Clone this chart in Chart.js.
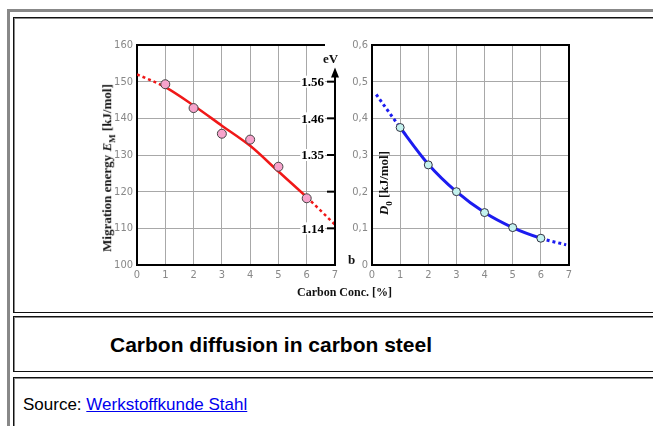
<!DOCTYPE html>
<html>
<head>
<meta charset="utf-8">
<script src="https://cdn.jsdelivr.net/npm/chart.js@4"></script>
<style>
  body { margin: 0; background: #fff; width: 653px; height: 426px; overflow: hidden; position: relative; font-family: "Liberation Sans", Arial, sans-serif; }
  .frame { position: absolute; left: 7px; top: 9px; width: 800px; height: 500px; border-left: 3px solid #888; border-top: 3px solid #888; }
  .cell { position: absolute; left: 13px; width: 760px; border: 1px solid #111; box-shadow: 1px 1px 0 #888 inset; }
  .box { position: absolute; }
  .lbl { position: absolute; font-family: "Liberation Serif", "Times New Roman", serif; font-weight: bold; font-size: 13px; color: #111; white-space: nowrap; }
  .rot { transform: translate(-50%, -50%) rotate(-90deg); }
  .caption { position: absolute; left: 110px; top: 333px; font-size: 21px; font-weight: bold; color: #000; }
  .source { position: absolute; left: 23px; top: 395px; font-size: 17px; color: #000; }
  .source a { color: #0000ee; }
</style>
</head>
<body>
<div class="frame"></div>
<div class="cell" style="top:17px;height:294px"></div>
<div class="cell" style="top:316px;height:54px"></div>
<div class="cell" style="top:377px;height:80px"></div>

<div class="box" style="left:80px;top:30px;width:280px;height:262px"><canvas id="left"></canvas></div>
<div class="box" style="left:330px;top:30px;width:250px;height:262px"><canvas id="right"></canvas></div>

<div class="lbl rot" style="left:108px;top:168px">Migration energy <i>E</i><sub style="font-size:9px">M</sub> [kJ/mol]</div>
<div class="lbl" style="left:323px;top:51px">eV</div>
<div class="lbl" style="left:348px;top:252px">b</div>
<div class="lbl rot" style="left:385px;top:183px"><i>D</i><sub style="font-size:9px">0</sub> [kJ/mol]</div>
<div class="lbl" style="left:297px;top:285px;font-size:12px">Carbon Conc. [%]</div>

<div class="caption">Carbon diffusion in carbon steel</div>
<div class="source">Source: <a href="#">Werkstoffkunde Stahl</a></div>

<script>
// carbon concentration [%] of the measured points
const concX = [1, 2, 3, 4, 5, 6]
// migration energy E_M [kJ/mol]
const migrationPts = [149.3, 142.8, 135.8, 134.2, 126.8, 118.2]
const fitX = [0, 1, 2, 3, 4, 5, 6, 7]
const migrationFit = [152, 148.5, 143.5, 138, 132.5, 125.5, 118.5, 111]
// eV scale on the right of the left plot
const evValues = [150, 140, 130, 120, 110]
const evLabels = ['1.56', '1.46', '1.35', '', '1.14']
const evTop = 153.3
// D0 [kJ/mol]
const d0Pts = [0.375, 0.273, 0.2, 0.143, 0.102, 0.073]
const d0FitX = [0.15, 1, 2, 3, 4, 5, 6, 6.9]
const d0Fit = [0.465, 0.375, 0.275, 0.2, 0.143, 0.102, 0.073, 0.055]

const tickFont = { family: '"Liberation Sans Narrow", "DejaVu Sans Condensed", sans-serif', size: 11 }
const tickColor = '#888'
const gridColor = '#a8a8a8'

const toXY = (xs, ys) => xs.map((x, i) => ({ x, y: ys[i] }))
const dottedEnds = n => ctx => (ctx.p0DataIndex === 0 || ctx.p1DataIndex === n - 1) ? [3, 3] : undefined

function fixWidth(w) { return s => { s.width = w } }
function fixHeight(h) { return s => { s.height = h } }

const leftFrame = {
  id: 'leftFrame',
  afterDatasetsDraw(chart) {
    const { ctx, chartArea: a, scales: { x, y } } = chart
    const ax = x.getPixelForValue(7)
    ctx.save()
    ctx.strokeStyle = '#000'
    ctx.lineWidth = 2
    ctx.beginPath()
    ctx.moveTo(a.left, a.top)
    ctx.lineTo(a.right - 10, a.top)
    ctx.stroke()
    // eV axis with arrow
    const top = y.getPixelForValue(evTop)
    ctx.beginPath()
    ctx.moveTo(ax, a.bottom)
    ctx.lineTo(ax, top + 6)
    ctx.stroke()
    ctx.fillStyle = '#000'
    ctx.beginPath()
    ctx.moveTo(ax, top - 2)
    ctx.lineTo(ax - 4, top + 8)
    ctx.lineTo(ax + 4, top + 8)
    ctx.closePath()
    ctx.fill()
    ctx.font = 'bold 13px "Liberation Serif", serif'
    ctx.textAlign = 'right'
    ctx.textBaseline = 'middle'
    evValues.forEach((v, i) => {
      const py = y.getPixelForValue(v)
      ctx.beginPath()
      ctx.moveTo(ax - 8, py)
      ctx.lineTo(ax, py)
      ctx.stroke()
      if (evLabels[i]) {
        const w = ctx.measureText(evLabels[i]).width
        ctx.fillStyle = '#fff'
        ctx.fillRect(ax - 12 - w, py - 6, w + 2, 12)
        ctx.fillStyle = '#000'
        ctx.fillText(evLabels[i], ax - 11, py + 1)
      }
    })
    ctx.restore()
  }
}

const rightFrame = {
  id: 'rightFrame',
  afterDatasetsDraw(chart) {
    const { ctx, chartArea: a } = chart
    ctx.save()
    ctx.strokeStyle = '#000'
    ctx.lineWidth = 2
    ctx.strokeRect(a.left, a.top, a.right - a.left, a.bottom - a.top)
    ctx.restore()
  }
}

function axes(ymin, ymax, ystep, yWidth, yFmt, hideLastX) {
  return {
    x: {
      type: 'linear', min: 0, max: 7,
      ticks: { stepSize: 1, font: tickFont, color: tickColor, padding: 4 },
      grid: {
        color: c => (c.tick.value === 0 || (hideLastX && c.tick.value === 7)) ? 'transparent' : gridColor,
        drawTicks: false
      },
      border: { color: '#000', width: 2 },
      afterFit: fixHeight(27)
    },
    y: {
      min: ymin, max: ymax,
      ticks: { stepSize: ystep, font: tickFont, color: tickColor, padding: 4, callback: yFmt },
      grid: { color: c => (c.tick.value === ymin || c.tick.value === ymax) ? 'transparent' : gridColor, drawTicks: false },
      border: { color: '#000', width: 2 },
      afterFit: fixWidth(yWidth)
    }
  }
}

new Chart(document.getElementById('left'), {
  type: 'line',
  data: {
    datasets: [{
      data: toXY(concX, migrationPts),
      showLine: false,
      pointRadius: 4.5,
      pointBackgroundColor: '#f7a3cc',
      pointBorderColor: '#444',
      pointBorderWidth: 1,
      order: 0
    }, {
      data: toXY(fitX, migrationFit),
      borderColor: '#f01818',
      borderWidth: 2.5,
      pointRadius: 0,
      cubicInterpolationMode: 'monotone',
      segment: { borderDash: dottedEnds(fitX.length) },
      order: 1
    }]
  },
  options: {
    responsive: true,
    maintainAspectRatio: false,
    animation: false,
    layout: { padding: { top: 15, right: 25, left: 0, bottom: 0 } },
    plugins: { legend: { display: false }, tooltip: { enabled: false } },
    scales: axes(100, 160, 10, 57, v => v, true)
  },
  plugins: [leftFrame]
})

new Chart(document.getElementById('right'), {
  type: 'line',
  data: {
    datasets: [{
      data: toXY(concX, d0Pts),
      showLine: false,
      pointRadius: 4,
      pointBackgroundColor: '#c4f2ee',
      pointBorderColor: '#334',
      pointBorderWidth: 1,
      order: 0
    }, {
      data: toXY(d0FitX, d0Fit),
      borderColor: '#1c1cf0',
      borderWidth: 3,
      pointRadius: 0,
      cubicInterpolationMode: 'monotone',
      segment: { borderDash: dottedEnds(d0FitX.length) },
      order: 1
    }]
  },
  options: {
    responsive: true,
    maintainAspectRatio: false,
    animation: false,
    layout: { padding: { top: 15, right: 11, left: 0, bottom: 0 } },
    plugins: { legend: { display: false }, tooltip: { enabled: false } },
    scales: axes(0, 0.6, 0.1, 42, v => v === 0 ? '0' : v.toFixed(1).replace('.', ','), false)
  },
  plugins: [rightFrame]
})
</script>
</body>
</html>
